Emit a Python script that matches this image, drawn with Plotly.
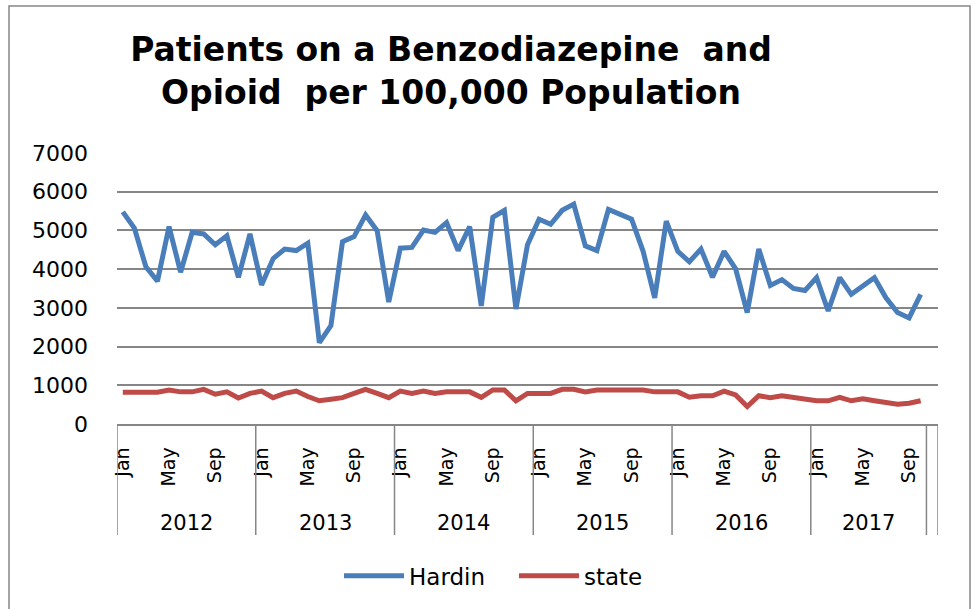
import plotly.graph_objects as go

years = ["2012", "2013", "2014", "2015", "2016", "2017"]
months_in_year = [12, 12, 12, 12, 12, 10]
month_names = ["Jan", "Feb", "Mar", "Apr", "May", "Jun", "Jul", "Aug", "Sep", "Oct", "Nov", "Dec"]

hardin = [5480, 5060, 4060, 3690, 5100, 3920, 4950, 4910, 4630, 4860, 3790, 4910,
          3590, 4270, 4520, 4480, 4670, 2100, 2540, 4710, 4840, 5400, 4990, 3150,
          4540, 4560, 5010, 4950, 5200, 4480, 5100, 3050, 5340, 5520, 2970, 4630,
          5290, 5160, 5520, 5680, 4600, 4480, 5540, 5400, 5290, 4460, 3260, 5240,
          4460, 4190, 4520, 3790, 4460, 4010, 2880, 4520, 3580, 3730, 3500, 3450,
          3780, 2920, 3780, 3350, 3560, 3780, 3260, 2880, 2740, 3350]
state = [820, 820, 820, 820, 880, 830, 830, 895, 770, 830, 670, 790,
         850, 680, 790, 850, 710, 600, 640, 680, 790, 895, 790, 680,
         850, 790, 850, 790, 830, 830, 830, 690, 880, 880, 600, 790,
         790, 790, 895, 895, 830, 880, 880, 880, 880, 880, 830, 830,
         830, 690, 730, 730, 850, 750, 450, 730, 680, 730, 690, 650,
         600, 600, 690, 600, 650, 600, 555, 510, 535, 600]

y_ticks = [0, 1000, 2000, 3000, 4000, 5000, 6000, 7000]
title_text = "Patients on a Benzodiazepine  and<br>Opioid  per 100,000 Population"

# build category positions (one trailing empty category like the source chart)
month_labels = []
for y, n in zip(years, months_in_year):
    for m in range(n):
        month_labels.append(month_names[m])
n_cat = len(month_labels) + 1
xs = list(range(len(month_labels)))

GRAY = "#868686"
BLUE = "#4A7EBB"
RED = "#BE4B48"
FONT = "DejaVu Sans"

fig = go.Figure()
fig.add_trace(go.Scatter(x=xs[:len(hardin)], y=hardin, mode="lines", name="Hardin",
                         line=dict(color=BLUE, width=5)))
fig.add_trace(go.Scatter(x=xs[:len(state)], y=state, mode="lines", name="state",
                         line=dict(color=RED, width=5)))

tickvals = [i for i, m in enumerate(month_labels) if m in ("Jan", "May", "Sep")]
ticktext = [month_labels[i] for i in tickvals]

shapes = []
annotations = []
start = -0.5
for y, n in zip(years, months_in_year):
    shapes.append(dict(type="line", xref="x", yref="paper", x0=start, x1=start,
                       y0=0, y1=-0.41, line=dict(color=GRAY, width=1.5)))
    annotations.append(dict(x=start + n / 2, y=0, xref="x", yref="paper", yshift=-99,
                            text=y, showarrow=False, yanchor="middle",
                            font=dict(family=FONT, size=21, color="#000000")))
    start += n
for b in (start, start + 1):
    shapes.append(dict(type="line", xref="x", yref="paper", x0=b, x1=b,
                       y0=0, y1=-0.41, line=dict(color=GRAY, width=1.5)))

# outer chart border
shapes.append(dict(type="rect", xref="paper", yref="paper",
                   x0=(9 - 117) / 821, x1=(970 - 117) / 821,
                   y0=(426 - 640) / 273, y1=(426 - 5) / 273,
                   line=dict(color=GRAY, width=1.5), fillcolor="rgba(0,0,0,0)", layer="below"))

fig.update_layout(
    width=975, height=609,
    margin=dict(l=117, r=37, t=153, b=183),
    paper_bgcolor="white", plot_bgcolor="white",
    title=dict(text=title_text, x=451 / 975, xanchor="center", y=1 - 61 / 609, yanchor="middle",
               font=dict(family=FONT, size=33, color="#000000", weight="bold")),
    showlegend=True,
    legend=dict(orientation="h", x=(339 - 117) / 821, xanchor="left",
                y=(426 - 579) / 273, yanchor="middle",
                font=dict(family=FONT, size=23, color="#000000"), itemwidth=60,
                entrywidth=100, entrywidthmode="pixels", traceorder="normal"),
    xaxis=dict(range=[-0.5, n_cat - 0.5], tickvals=tickvals, ticktext=ticktext, tickangle=-90,
               showgrid=False, zeroline=False, showline=True, linecolor=GRAY, linewidth=1.5,
               ticks="", ticklabelstandoff=14,
               tickfont=dict(family=FONT, size=19, color="#000000")),
    yaxis=dict(range=[0, 7000], tickvals=y_ticks, showgrid=True, gridcolor=GRAY, gridwidth=1.5,
               zeroline=False, showline=False, ticks="", ticklabelstandoff=28,
               tickfont=dict(family=FONT, size=22, color="#000000")),
    shapes=shapes, annotations=annotations,
)

fig.write_html("out.html", config={"displayModeBar": False},
               post_script="document.body.style.margin='0';")
